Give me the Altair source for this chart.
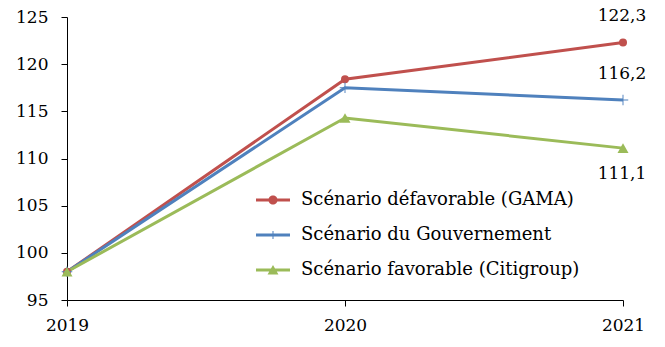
import altair as alt
import pandas as pd

years = [2019, 2020, 2021]
series = ["Scénario défavorable (GAMA)", "Scénario du Gouvernement", "Scénario favorable (Citigroup)"]
gama = [98.0, 118.4, 122.3]
gouv = [98.0, 117.5, 116.2]
citi = [98.0, 114.3, 111.1]
colors = ["#C0504D", "#4F81BD", "#9BBB59"]

rows = []
for s, vals in zip(series, [gama, gouv, citi]):
    for y, v in zip(years, vals):
        rows.append({"year": str(y), "series": s, "value": v,
                     "label": f"{v:.1f}".replace(".", ",")})
df = pd.DataFrame(rows)

FONT = "DejaVu Serif"
FS = 17

cross_path = "M-1,-0.09H1V0.09H-1ZM-0.09,-1H0.09V1H-0.09Z"
leg_line = "M-1,-0.088H1V0.088H-1Z"
leg_paths = [
    "M-1,-0.088H-0.2V0.088H-1ZM0.2,-0.088H1V0.088H0.2Z"
    "M-0.27,0A0.27,0.27 0 1,1 0.27,0A0.27,0.27 0 1,1 -0.27,0Z",
    leg_line + "M-0.03,-0.24H0.03V0.24H-0.03Z",
    leg_line + "M0,-0.3L0.32,0.26L-0.32,0.26Z",
]

x = alt.X("year:O", sort=[str(v) for v in years],
          scale=alt.Scale(type="point", padding=0),
          axis=alt.Axis(grid=False, title=None, labelAngle=0,
                        labelOverlap=False, tickSize=6, labelPadding=11))
y = alt.Y("value:Q", scale=alt.Scale(domain=[95, 125], nice=False, zero=False),
          axis=alt.Axis(values=list(range(95, 126, 5)), grid=False, title=None,
                        tickSize=6, labelPadding=13, labelOverlap=False))
cscale = alt.Scale(domain=series, range=colors)
leg = alt.Legend(orient="none", legendX=189, legendY=166,
                 title=None, padding=0, symbolSize=1156,
                 symbolOffset=0, labelOffset=11, rowPadding=9,
                 labelFont=FONT, labelFontSize=18, labelLimit=400,
                 labelColor="black", symbolStrokeWidth=0, symbolOpacity=1)
color_nol = alt.Color("series:N", scale=cscale, sort=series, legend=None)

base = alt.Chart(df)
lines = base.mark_line(strokeWidth=3).encode(color=color_nol)

legend_layer = base.mark_point(filled=True, size=1156, opacity=0, strokeWidth=0).encode(
    color=alt.Color("series:N", scale=cscale, sort=series, legend=leg),
    shape=alt.Shape("series:N", scale=alt.Scale(domain=series, range=leg_paths),
                    sort=series, legend=leg))

marker_layers = []
for s, shp, sz in zip(series, ["circle", cross_path, "triangle-up"], [64, 110, 121]):
    marker_layers.append(
        base.transform_filter(alt.datum.series == s)
        .mark_point(filled=True, shape=shp, size=sz, opacity=1, strokeWidth=0)
        .encode(color=color_nol))

last = base.transform_filter(alt.datum.year == "2021")
lab_up = last.transform_filter(alt.datum.series != series[2]).mark_text(
    font=FONT, fontSize=FS, dy=-26, dx=-1, color="black").encode(text="label:N")
lab_dn = last.transform_filter(alt.datum.series == series[2]).mark_text(
    font=FONT, fontSize=FS, dy=26, dx=-1, color="black").encode(text="label:N")

chart = alt.layer(legend_layer, lines, *marker_layers, lab_up, lab_dn).encode(
    x=x, y=y
).properties(
    width=556, height=283,
    background="white",
    autosize=alt.AutoSizeParams(type="none"),
    padding={"left": 67, "top": 17, "right": 42, "bottom": 47},
).configure_view(stroke=None).configure_axis(
    labelFont=FONT, labelFontSize=FS, labelColor="black",
    domainColor="black", tickColor="black", domainWidth=1, tickWidth=1,
)

chart.save("out.html", embed_options={"renderer": "svg", "actions": False})
